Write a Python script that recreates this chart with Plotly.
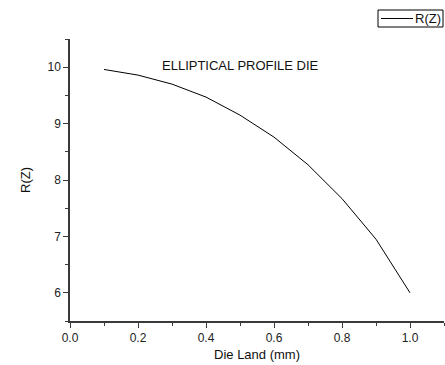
import plotly.graph_objects as go

# Die land position (mm) and profile radius R(Z)
die_land = [0.1, 0.2, 0.3, 0.4, 0.5, 0.6, 0.7, 0.8, 0.9, 1.0]
radius = [9.96, 9.86, 9.70, 9.47, 9.15, 8.76, 8.27, 7.67, 6.95, 6.00]

x_ticks = [0.0, 0.2, 0.4, 0.6, 0.8, 1.0]
x_tick_text = ["0.0", "0.2", "0.4", "0.6", "0.8", "1.0"]
y_ticks = [6, 7, 8, 9, 10]
series_name = "R(Z)"

FONT = "Liberation Sans, Arial, sans-serif"
AXIS_COLOR = "#3a3a3a"

# plot area geometry in pixels (used for the compact key box)
W, H = 445, 365
L, R, T, B = 70, 1, 39, 44
PW, PH = W - L - R, H - T - B


def px_x(p):
    return (p - L) / PW


def px_y(p):
    return (H - B - p) / PH


fig = go.Figure()
fig.add_trace(go.Scatter(
    x=die_land, y=radius, mode="lines", name=series_name,
    line=dict(color="black", width=1), showlegend=False,
))

axis_common = dict(
    showline=True, linecolor=AXIS_COLOR, linewidth=1.5,
    showgrid=False, zeroline=False, mirror=False,
    ticks="outside", ticklen=5, tickwidth=1.2, tickcolor=AXIS_COLOR,
    tickfont=dict(family=FONT, size=12, color="#222"),
    title_font=dict(family=FONT, size=13, color="#111"),
)

fig.update_xaxes(
    range=[0, 1.1], tickvals=x_ticks, ticktext=x_tick_text,
    minor=dict(ticks="outside", ticklen=3, tickwidth=1.2, tickcolor=AXIS_COLOR,
               dtick=0.1, tick0=0, showgrid=False),
    title_text="Die Land (mm)", title_standoff=6,
    **axis_common,
)
fig.update_yaxes(
    range=[5.5, 10.5], tickvals=y_ticks,
    minor=dict(ticks="outside", ticklen=3, tickwidth=1.2, tickcolor=AXIS_COLOR,
               dtick=0.5, tick0=5.5, showgrid=False),
    title_text="R(Z)", title_standoff=14,
    **axis_common,
)

fig.add_annotation(
    text="ELLIPTICAL PROFILE DIE", xref="paper", yref="paper",
    x=px_x(240), y=px_y(65), showarrow=False,
    xanchor="center", yanchor="middle",
    font=dict(family=FONT, size=13, color="#111"),
)

# compact boxed key in the top-right corner
fig.add_shape(type="rect", xref="paper", yref="paper",
              x0=px_x(378), x1=px_x(443), y0=px_y(27), y1=px_y(10),
              line=dict(color="black", width=1), fillcolor="white")
fig.add_shape(type="line", xref="paper", yref="paper",
              x0=px_x(381), x1=px_x(413), y0=px_y(18.5), y1=px_y(18.5),
              line=dict(color="black", width=1))
fig.add_annotation(
    text=series_name, xref="paper", yref="paper",
    x=px_x(414), y=px_y(18.5), showarrow=False,
    xanchor="left", yanchor="middle",
    font=dict(family=FONT, size=13, color="#111"),
    borderpad=0,
)

fig.update_layout(
    width=W, height=H,
    margin=dict(l=L, r=R, t=T, b=B),
    paper_bgcolor="white", plot_bgcolor="white",
    showlegend=False,
)

fig.write_html("out.html")
